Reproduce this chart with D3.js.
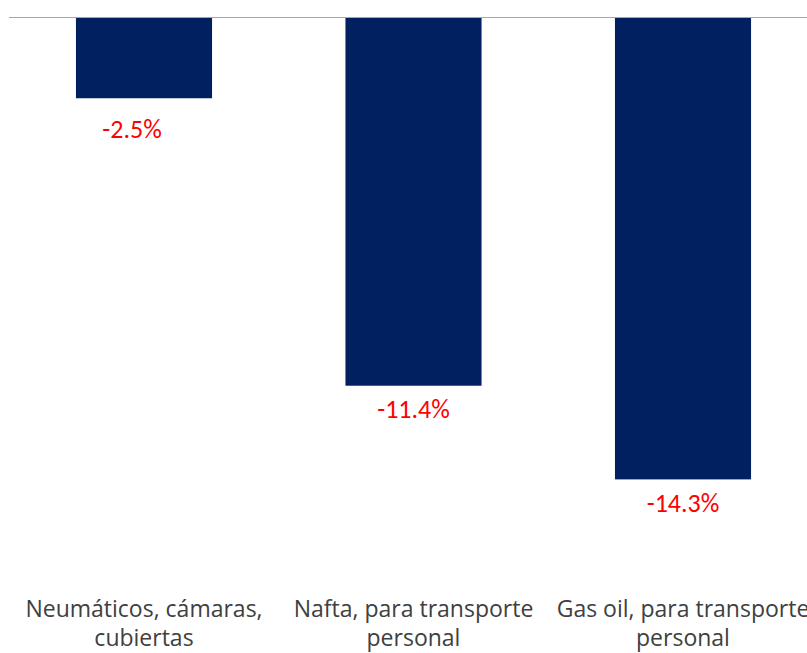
<!DOCTYPE html>
<html><head><meta charset="utf-8">
<script src="https://cdn.jsdelivr.net/npm/d3@7"></script>
<style>html,body{margin:0;padding:0;background:#fff;overflow:hidden}</style>
</head><body>
<svg id="c" width="807" height="653"></svg>
<script>
const categories = [["Neumáticos, cámaras,", "cubiertas"], ["Nafta, para transporte", "personal"], ["Gas oil, para transporte", "personal"]];
const values = [-2.5, -11.4, -14.3];
const valueLabels = ["-2.5%", "-11.4%", "-14.3%"];

const svg = d3.select("#c");
const keys = categories.map((c, i) => i);
const x = d3.scaleBand().domain(keys).range([9.25, 817.75]).paddingInner(0.495).paddingOuter(0.2475);
const y = d3.scaleLinear().domain([0, -18]).range([17.5, 17.5 + 18 * 32.3]);

svg.selectAll("rect.bar").data(values).enter().append("rect")
  .attr("class", "bar")
  .attr("x", (d, i) => x(i))
  .attr("width", x.bandwidth())
  .attr("y", y(0))
  .attr("height", d => y(d) - y(0))
  .attr("fill", "#002060");

svg.append("line").attr("x1", 9).attr("x2", 807).attr("y1", y(0)).attr("y2", y(0))
  .attr("stroke", "#a6a6a6").attr("stroke-width", 1.2);

const labelDx = [-12, 0, 0];
const labelDy = [40, 32, 33];
svg.selectAll("text.val").data(values).enter().append("text")
  .attr("class", "val")
  .attr("x", (d, i) => x(i) + x.bandwidth() / 2 + labelDx[i])
  .attr("y", (d, i) => y(d) + labelDy[i])
  .attr("text-anchor", "middle")
  .attr("font-family", "Carlito, Lato, 'Liberation Sans', sans-serif")
  .attr("font-size", 26)
  .attr("fill", "#ff0000")
  .text((d, i) => valueLabels[i]);

const lineGap = 29;
categories.forEach((lines, i) => {
  lines.forEach((ln, j) => {
    svg.append("text")
      .attr("class", "cat")
      .attr("x", x(i) + x.bandwidth() / 2)
      .attr("y", 617 + j * lineGap)
      .attr("text-anchor", "middle")
      .attr("font-family", "'Open Sans', sans-serif")
      .attr("font-size", 23)
      .attr("fill", "#404040")
      .text(ln);
  });
});
</script>
</body></html>
